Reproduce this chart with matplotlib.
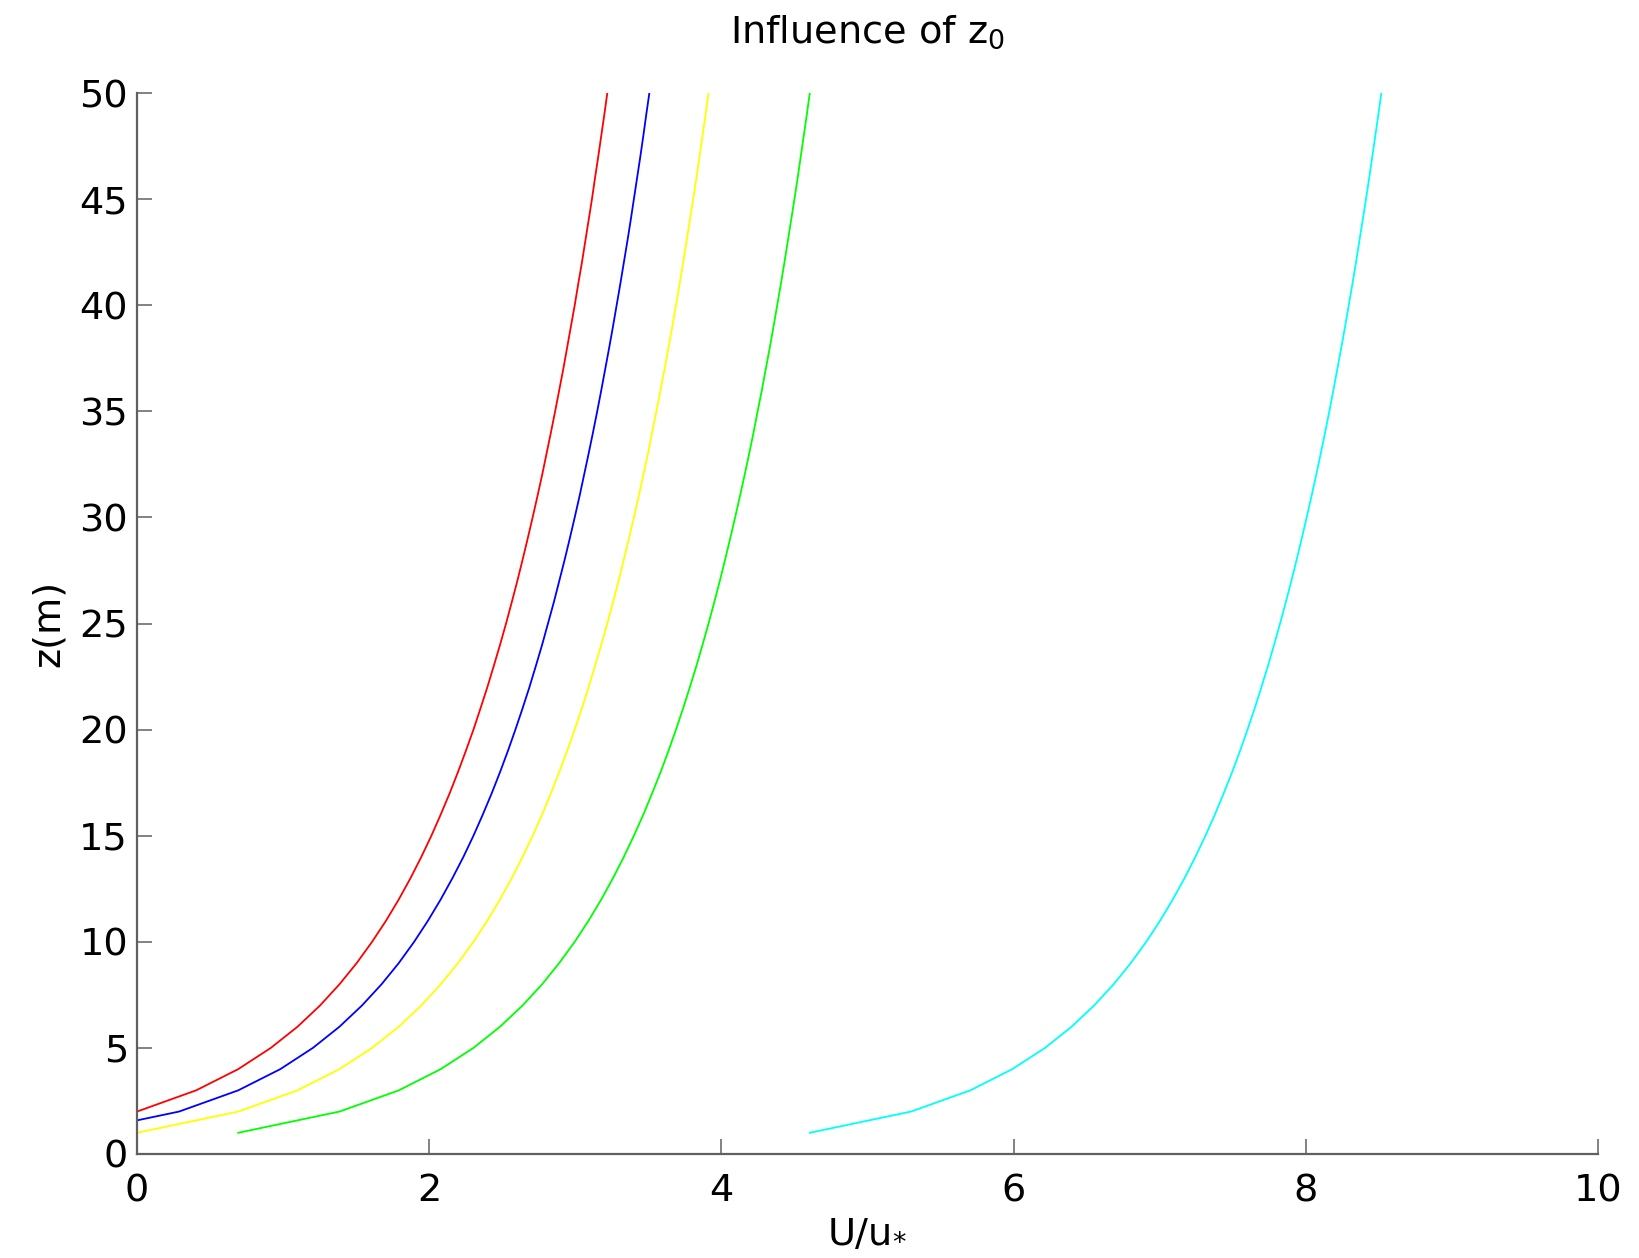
import matplotlib
matplotlib.use("Agg")
import matplotlib.pyplot as plt
import numpy as np

plt.rcParams['font.family'] = ['DejaVu Sans']

# heights (m), one sample per metre
z = list(range(1, 51))

# U/u* profiles, one per roughness length
u_red = [-0.693, 0.000, 0.405, 0.693, 0.916, 1.099, 1.253, 1.386, 1.504, 1.609,
         1.705, 1.792, 1.872, 1.946, 2.015, 2.079, 2.140, 2.197, 2.251, 2.303,
         2.351, 2.398, 2.442, 2.485, 2.526, 2.565, 2.603, 2.639, 2.674, 2.708,
         2.741, 2.773, 2.803, 2.833, 2.862, 2.890, 2.918, 2.944, 2.970, 2.996,
         3.020, 3.045, 3.068, 3.091, 3.114, 3.135, 3.157, 3.178, 3.199, 3.219]
u_blue = [-0.405, 0.288, 0.693, 0.981, 1.204, 1.386, 1.540, 1.674, 1.792, 1.897,
          1.992, 2.079, 2.159, 2.234, 2.303, 2.367, 2.428, 2.485, 2.539, 2.590,
          2.639, 2.686, 2.730, 2.773, 2.813, 2.853, 2.890, 2.927, 2.962, 2.996,
          3.029, 3.060, 3.091, 3.121, 3.150, 3.178, 3.205, 3.232, 3.258, 3.283,
          3.308, 3.332, 3.356, 3.379, 3.401, 3.423, 3.445, 3.466, 3.486, 3.507]
u_yellow = [0.000, 0.693, 1.099, 1.386, 1.609, 1.792, 1.946, 2.079, 2.197, 2.303,
            2.398, 2.485, 2.565, 2.639, 2.708, 2.773, 2.833, 2.890, 2.944, 2.996,
            3.045, 3.091, 3.135, 3.178, 3.219, 3.258, 3.296, 3.332, 3.367, 3.401,
            3.434, 3.466, 3.497, 3.526, 3.555, 3.584, 3.611, 3.638, 3.664, 3.689,
            3.714, 3.738, 3.761, 3.784, 3.807, 3.829, 3.850, 3.871, 3.892, 3.912]
u_green = [0.693, 1.386, 1.792, 2.079, 2.303, 2.485, 2.639, 2.773, 2.890, 2.996,
           3.091, 3.178, 3.258, 3.332, 3.401, 3.466, 3.526, 3.584, 3.638, 3.689,
           3.738, 3.784, 3.829, 3.871, 3.912, 3.951, 3.989, 4.025, 4.060, 4.094,
           4.127, 4.159, 4.190, 4.220, 4.248, 4.277, 4.304, 4.331, 4.357, 4.382,
           4.407, 4.431, 4.454, 4.477, 4.500, 4.522, 4.543, 4.564, 4.585, 4.605]
u_cyan = [4.605, 5.298, 5.704, 5.991, 6.215, 6.397, 6.551, 6.685, 6.802, 6.908,
          7.003, 7.090, 7.170, 7.244, 7.313, 7.378, 7.438, 7.496, 7.550, 7.601,
          7.650, 7.696, 7.741, 7.783, 7.824, 7.863, 7.901, 7.937, 7.972, 8.006,
          8.039, 8.071, 8.102, 8.132, 8.161, 8.189, 8.216, 8.243, 8.269, 8.294,
          8.319, 8.343, 8.366, 8.389, 8.412, 8.434, 8.455, 8.476, 8.497, 8.517]

series = [(u_red, '#ff0000'), (u_blue, '#0000ff'), (u_yellow, '#ffff00'),
          (u_green, '#00ff00'), (u_cyan, '#00ffff')]

fig = plt.figure(figsize=(16.39, 12.58), dpi=100)
ax = fig.add_axes([137/1639, 1 - 1154/1258, (1598-137)/1639, (1154-93)/1258])

for u, c in series:
    ax.plot(u, z, color=c, linewidth=1.3)

ax.set_xlim(0, 10)
ax.set_ylim(0, 50)
ax.set_xticks(np.arange(0, 11, 2))
ax.set_yticks(np.arange(0, 51, 5))

for s in ['top', 'right']:
    ax.spines[s].set_visible(False)
for s in ['left', 'bottom']:
    ax.spines[s].set_color('#606060')
    ax.spines[s].set_linewidth(1.6)

ax.tick_params(direction='in', length=11, width=1.1, color='#606060',
               labelsize=27.5)
ax.tick_params(axis='x', pad=14)
ax.tick_params(axis='y', pad=6.5)

ax.set_title(r'Influence of z$_\mathregular{0}$', fontsize=27.5, pad=36)
ax.set_xlabel(r'U/u$_\mathregular{*}$', fontsize=27.5, labelpad=4)
ax.set_ylabel('z(m)', fontsize=27.5, labelpad=9)

fig.savefig('out.png', dpi=100)
